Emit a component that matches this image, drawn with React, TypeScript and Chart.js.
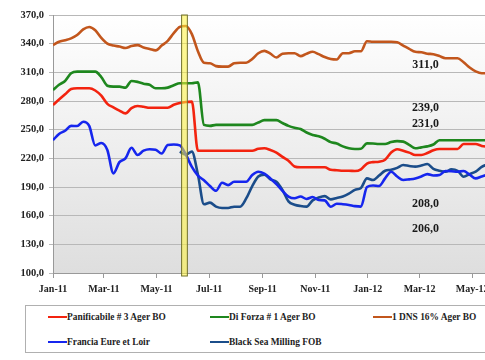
import React, { useEffect, useRef } from 'react';
import { Chart, registerables } from 'chart.js';
Chart.register(...registerables);

// Week index since 1 Jan 2011
const weekIndex = [
  0, 1, 2, 3, 4, 5, 6, 7, 8, 9, 10, 11, 12, 13, 14, 15, 16, 17, 18, 19, 20, 21, 22, 23, 24,
  25, 26, 27, 28, 29, 30, 31, 32, 33, 34, 35, 36, 37, 38, 39, 40, 41, 42, 43, 44, 45, 46, 47, 48,
  49, 50, 51, 52, 53, 54, 55, 56, 57, 58, 59, 60, 61, 62, 63, 64, 65, 66, 67, 68, 69, 70, 71, 72,
];

const panificabile = [
  275.8, 281.5, 287, 292.5, 293.3, 293.3, 293.3, 291, 285.5, 277, 273.4, 270, 267, 272.5, 274.8,
  274, 273, 273, 273, 273, 276, 278, 279, 279.3, 228, 228, 228, 228, 228, 228, 228, 228, 228, 228,
  230, 230.5, 228.7, 226, 221.5, 217.5, 211.5, 210.6, 210.6, 210.6, 210.6, 210.6, 208, 207.6, 207,
  207, 206.7, 208.5, 214.5, 216, 216.5, 218.5, 226, 229.5, 228, 226, 223.5, 223.5, 225.5, 228.5,
  229.8, 229.8, 229.8, 229.8, 235, 235, 235, 233, 232,
];

const diForza = [
  291.5, 297, 301, 309, 310.7, 310.7, 310.7, 310.7, 305, 296, 295, 295, 294, 301, 300, 298, 297,
  293.3, 293.3, 294, 296.5, 298.5, 298.5, 298.5, 299.5, 255, 254, 255, 255, 255, 255, 255, 255,
  255, 257.5, 260, 260, 260, 257, 254, 252, 250.7, 247, 244.5, 243, 240.5, 237, 235.5, 232.5,
  230.5, 229.8, 230, 235.7, 235.5, 235, 235, 237, 238, 237.5, 234, 230.5, 231.5, 232.5, 234.5,
  239, 239, 239, 239, 239, 239, 239, 239, 239,
];

const dns16 = [
  338.6, 342, 343.5, 345.5, 349, 355, 357.5, 354, 346, 340, 338, 337, 335.5, 337.5, 338.5, 336,
  334.5, 333, 338, 343, 351, 357.5, 358.5, 350, 332, 320, 319.5, 316.5, 316, 316, 319.5, 320, 320,
  324, 330, 332.5, 329.5, 325.5, 329.5, 330, 330, 327, 329.5, 331.5, 329, 326, 324, 323.5, 330,
  330, 332, 332, 342.5, 342, 342, 342, 342, 341.5, 338, 334.5, 331.5, 331, 329.5, 329, 327, 324.7,
  324.7, 324.7, 320.5, 315, 311, 309, 309,
];

const francia = [
  239, 245.5, 248.9, 254, 253.8, 258.3, 254, 233.5, 236, 228.7, 204.3, 216, 220, 231, 223.5, 228,
  229.5, 229, 225, 234, 234.5, 233.5, 224, 211, 202, 197, 191, 186, 194.5, 192, 195.5, 195.5,
  195.5, 202.6, 206, 204, 199, 193, 186, 180, 178.2, 180, 177.5, 179.5, 176.4, 176, 169.4, 172.5,
  172, 171.2, 170, 169.5, 190, 191.5, 191, 199, 206, 201, 197.3, 198, 199, 201, 203.5, 202, 202.5,
  206.7, 206.5, 206, 206.7, 203, 199, 201, 203,
];

const blackSea = [
  null, null, null, null, null, null, null, null, null, null, null, null, null, null, null, null,
  null, null, null, null, null, 227, 224, 227, 203, 172, 173.6, 169.4, 168, 168, 169.4, 169.4,
  178, 191, 201, 203, 198, 195.5, 187, 175, 171.5, 170.1, 169.5, 176, 179, 180.5, 177, 178.5, 180,
  183, 187, 189, 199, 197.3, 202, 207, 208, 210, 213, 212, 211.3, 212.5, 214, 209, 207, 206, 208.5,
  207, 200.8, 203.5, 206, 211, 214,
];

const seriesNames = [
  'Panificabile # 3 Ager BO',
  'Di Forza # 1 Ager BO',
  '1 DNS 16% Ager BO',
  'Francia Eure et Loir',
  'Black Sea Milling FOB',
];
const seriesColors = ['#f3230f', '#1e871e', '#c2561c', '#1626ee', '#1b4d8a'];

const monthTicks = [0, 8.43, 17.14, 25.86, 34.71, 43.43, 52.14, 60.71, 69.43];
const monthLabels = ['Jan-11', 'Mar-11', 'May-11', 'Jul-11', 'Sep-11', 'Nov-11', 'Jan-12', 'Mar-12', 'May-12'];

const lastValueLabels = ['311,0', '239,0', '231,0', '208,0', '206,0'];
// label anchor positions (week, value) for drawing
const labelAnchors = [
  [61.7, 317.7],
  [61.7, 273.2],
  [61.7, 255.9],
  [61.7, 172.7],
  [61.7, 146.0],
];

const bandStart = 21.3;
const bandEnd = 22.25;

const FONT = "'Times New Roman', 'Liberation Serif', serif";

export default function App() {
  const ref = useRef<HTMLCanvasElement>(null);

  useEffect(() => {
    const canvas = ref.current!;
    const mk = (vals: (number | null)[]) => vals.map((v, i) => ({ x: weekIndex[i], y: v }));
    const all = [panificabile, diForza, dns16, francia, blackSea];

    const bgPlugin = {
      id: 'bg',
      beforeDraw(chart: any) {
        const { ctx, chartArea: a } = chart;
        const g = ctx.createLinearGradient(0, a.top, 0, a.bottom);
        g.addColorStop(0, '#ffffff');
        g.addColorStop(1, '#dedede');
        ctx.save();
        ctx.fillStyle = g;
        ctx.fillRect(a.left, a.top, a.right - a.left, a.bottom - a.top);
        ctx.restore();
      },
    };

    const overlayPlugin = {
      id: 'overlay',
      afterDatasetsDraw(chart: any) {
        const { ctx, chartArea: a } = chart;
        const xs = chart.scales.x;
        const ys = chart.scales.y;
        const x0 = xs.getPixelForValue(bandStart);
        const x1 = xs.getPixelForValue(bandEnd);
        ctx.save();
        ctx.fillStyle = 'rgba(255, 244, 60, 0.55)';
        ctx.fillRect(x0, a.top, x1 - x0, a.bottom - a.top + 3);
        ctx.strokeStyle = '#70702a';
        ctx.lineWidth = 1;
        ctx.strokeRect(x0, a.top, x1 - x0, a.bottom - a.top + 3);
        ctx.fillStyle = '#1a1a1a';
        ctx.font = `bold 12px ${FONT}`;
        ctx.textAlign = 'center';
        ctx.textBaseline = 'middle';
        lastValueLabels.forEach((t, i) => {
          const [wx, vy] = labelAnchors[i];
          ctx.fillText(t, xs.getPixelForValue(wx), ys.getPixelForValue(vy));
        });
        ctx.restore();
      },
    };

    const chart = new Chart(canvas, {
      type: 'line',
      data: {
        datasets: all.map((vals, i) => ({
          label: seriesNames[i],
          data: mk(vals),
          borderColor: seriesColors[i],
          backgroundColor: seriesColors[i],
          borderWidth: 2.6,
          pointRadius: 0,
          cubicInterpolationMode: 'monotone' as const,
          fill: false,
        })),
      },
      options: {
        responsive: false,
        animation: false,
        events: [],
        layout: { padding: { top: 15, left: 0, right: 0, bottom: 0 } },
        plugins: { legend: { display: false }, tooltip: { enabled: false } },
        scales: {
          x: {
            type: 'linear',
            min: 0,
            max: 79,
            afterBuildTicks: (s: any) => {
              s.ticks = monthTicks.map((v) => ({ value: v }));
            },
            afterFit: (s: any) => {
              s.height = 27;
            },
            ticks: {
              autoSkip: false,
              maxRotation: 0,
              padding: 5,
              color: '#222',
              font: { family: FONT, size: 10, weight: 'bold' },
              callback: (v: any) => {
                const k = monthTicks.indexOf(Number(v));
                return k >= 0 ? monthLabels[k] : '';
              },
            },
            grid: { drawOnChartArea: false, tickLength: 5, color: '#999' },
            border: { color: '#999' },
          },
          y: {
            min: 100,
            max: 370,
            afterFit: (s: any) => {
              s.width = 53;
            },
            ticks: {
              stepSize: 30,
              padding: 5,
              color: '#222',
              font: { family: FONT, size: 10.5, weight: 'bold' },
              callback: (v: any) => Number(v).toFixed(1).replace('.', ','),
            },
            grid: { color: '#b8b8b8', tickLength: 4 },
            border: { color: '#999' },
          },
        },
      },
      plugins: [bgPlugin, overlayPlugin],
    } as any);
    return () => chart.destroy();
  }, []);

  const legendPos = [
    [48, 317],
    [210, 317],
    [373, 317],
    [48, 342],
    [210, 342],
  ];

  return (
    <div
      style={{
        position: 'fixed',
        left: 0,
        top: 0,
        width: 485,
        height: 360,
        overflow: 'hidden',
        background: '#fff',
      }}
    >
      <canvas ref={ref} width={530} height={300} style={{ display: 'block', width: 530, height: 300 }} />
      <div
        style={{
          position: 'absolute',
          left: 25,
          top: 305,
          width: 480,
          height: 46,
          border: '1px solid #b0b0b0',
        }}
      />
      {seriesNames.map((n, i) => (
        <div
          key={n}
          style={{
            position: 'absolute',
            left: legendPos[i][0],
            top: legendPos[i][1] - 7,
            height: 14,
            display: 'flex',
            alignItems: 'center',
            whiteSpace: 'nowrap',
            fontFamily: FONT,
            fontWeight: 'bold',
            fontSize: 9.4,
            color: '#222',
          }}
        >
          <span style={{ display: 'inline-block', width: 19, height: 2.5, background: seriesColors[i] }} />
          <span>{n}</span>
        </div>
      ))}
    </div>
  );
}
